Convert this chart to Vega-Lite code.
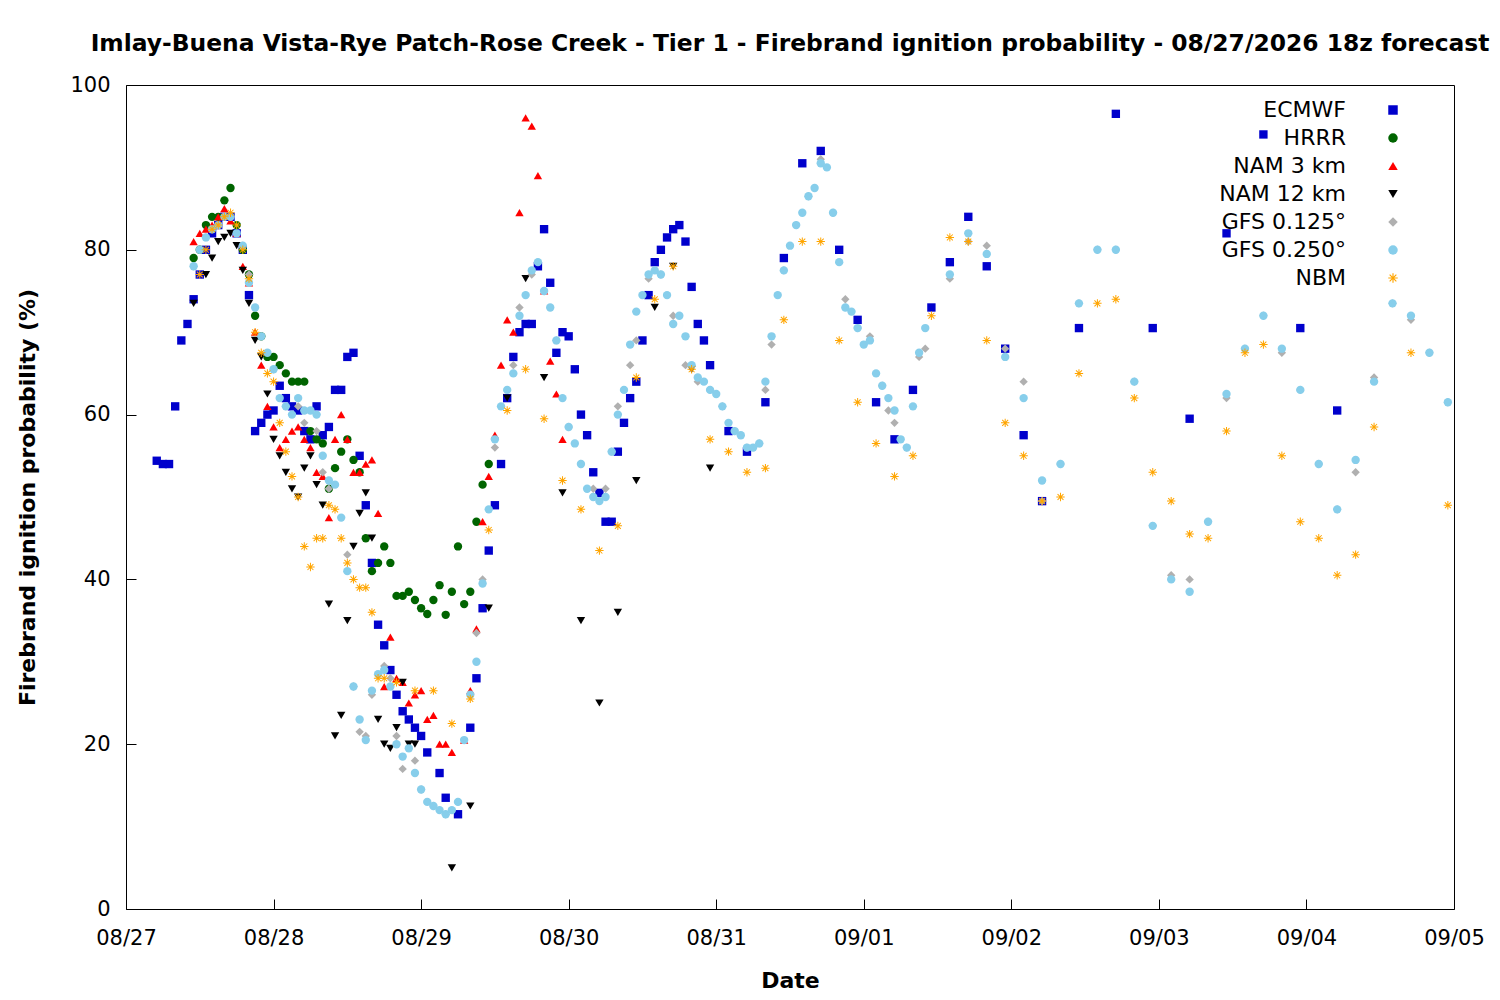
{
  "$schema": "https://vega.github.io/schema/vega-lite/v6.json",
  "autosize": "none",
  "width": 1328,
  "height": 824,
  "padding": {"left": 126, "top": 85, "right": 46, "bottom": 91},
  "background": "white",
  "config": {"font": "DejaVu Sans", "view": {"stroke": "black", "strokeWidth": 1}},
  "title": {"text": "Imlay-Buena Vista-Rye Patch-Rose Creek - Tier 1 - Firebrand ignition probability - 08/27/2026 18z forecast", "fontSize": 23.4, "fontWeight": "bold", "offset": 18, "anchor": "middle", "color": "black", "dx": 0},
  "data": {"values": [
{"m":"ECMWF","h":5,"p":54.4},{"m":"ECMWF","h":6,"p":54},{"m":"ECMWF","h":7,"p":54},{"m":"ECMWF","h":8,"p":61},{"m":"ECMWF","h":9,"p":69},{"m":"ECMWF","h":10,"p":71},{"m":"ECMWF","h":11,"p":74},{"m":"ECMWF","h":12,"p":77},{"m":"ECMWF","h":13,"p":80},{"m":"ECMWF","h":14,"p":82},{"m":"ECMWF","h":15,"p":83},{"m":"ECMWF","h":16,"p":84},{"m":"ECMWF","h":17,"p":84},{"m":"ECMWF","h":18,"p":82},{"m":"ECMWF","h":19,"p":80},{"m":"ECMWF","h":20,"p":74.5},{"m":"ECMWF","h":21,"p":58},{"m":"ECMWF","h":22,"p":59},{"m":"ECMWF","h":23,"p":60},{"m":"ECMWF","h":24,"p":60.5},{"m":"ECMWF","h":25,"p":63.5},{"m":"ECMWF","h":26,"p":62},{"m":"ECMWF","h":27,"p":61},{"m":"ECMWF","h":28,"p":60.5},{"m":"ECMWF","h":29,"p":58},{"m":"ECMWF","h":30,"p":57},{"m":"ECMWF","h":31,"p":61},{"m":"ECMWF","h":32,"p":57.5},{"m":"ECMWF","h":33,"p":58.5},{"m":"ECMWF","h":34,"p":63},{"m":"ECMWF","h":35,"p":63},{"m":"ECMWF","h":36,"p":67},{"m":"ECMWF","h":37,"p":67.5},{"m":"ECMWF","h":38,"p":55},{"m":"ECMWF","h":39,"p":49},{"m":"ECMWF","h":40,"p":42},{"m":"ECMWF","h":41,"p":34.5},{"m":"ECMWF","h":42,"p":32},{"m":"ECMWF","h":43,"p":29},{"m":"ECMWF","h":44,"p":26},{"m":"ECMWF","h":45,"p":24},{"m":"ECMWF","h":46,"p":23},{"m":"ECMWF","h":47,"p":22},{"m":"ECMWF","h":48,"p":21},{"m":"ECMWF","h":49,"p":19},{"m":"ECMWF","h":51,"p":16.5},{"m":"ECMWF","h":52,"p":13.5},{"m":"ECMWF","h":54,"p":11.5},{"m":"ECMWF","h":56,"p":22},{"m":"ECMWF","h":57,"p":28},{"m":"ECMWF","h":58,"p":36.5},{"m":"ECMWF","h":59,"p":43.5},{"m":"ECMWF","h":60,"p":49},{"m":"ECMWF","h":61,"p":54},{"m":"ECMWF","h":62,"p":62},{"m":"ECMWF","h":63,"p":67},{"m":"ECMWF","h":64,"p":70},{"m":"ECMWF","h":65,"p":71},{"m":"ECMWF","h":66,"p":71},{"m":"ECMWF","h":67,"p":78},{"m":"ECMWF","h":68,"p":82.5},{"m":"ECMWF","h":69,"p":76},{"m":"ECMWF","h":70,"p":67.5},{"m":"ECMWF","h":71,"p":70},{"m":"ECMWF","h":72,"p":69.5},{"m":"ECMWF","h":73,"p":65.5},{"m":"ECMWF","h":74,"p":60},{"m":"ECMWF","h":75,"p":57.5},{"m":"ECMWF","h":76,"p":53},{"m":"ECMWF","h":77,"p":50.5},{"m":"ECMWF","h":78,"p":47},{"m":"ECMWF","h":79,"p":47},{"m":"ECMWF","h":80,"p":55.5},{"m":"ECMWF","h":81,"p":59},{"m":"ECMWF","h":82,"p":62},{"m":"ECMWF","h":83,"p":64},{"m":"ECMWF","h":84,"p":69},{"m":"ECMWF","h":85,"p":74.5},{"m":"ECMWF","h":86,"p":78.5},{"m":"ECMWF","h":87,"p":80},{"m":"ECMWF","h":88,"p":81.5},{"m":"ECMWF","h":89,"p":82.5},{"m":"ECMWF","h":90,"p":83},{"m":"ECMWF","h":91,"p":81},{"m":"ECMWF","h":92,"p":75.5},{"m":"ECMWF","h":93,"p":71},{"m":"ECMWF","h":94,"p":69},{"m":"ECMWF","h":95,"p":66},{"m":"ECMWF","h":98,"p":58},{"m":"ECMWF","h":101,"p":55.5},{"m":"ECMWF","h":104,"p":61.5},{"m":"ECMWF","h":107,"p":79},{"m":"ECMWF","h":110,"p":90.5},{"m":"ECMWF","h":113,"p":92},{"m":"ECMWF","h":116,"p":80},{"m":"ECMWF","h":119,"p":71.5},{"m":"ECMWF","h":122,"p":61.5},{"m":"ECMWF","h":125,"p":57},{"m":"ECMWF","h":128,"p":63},{"m":"ECMWF","h":131,"p":73},{"m":"ECMWF","h":134,"p":78.5},{"m":"ECMWF","h":137,"p":84},{"m":"ECMWF","h":140,"p":78},{"m":"ECMWF","h":143,"p":68},{"m":"ECMWF","h":146,"p":57.5},{"m":"ECMWF","h":149,"p":49.5},{"m":"ECMWF","h":155,"p":70.5},{"m":"ECMWF","h":161,"p":96.5},{"m":"ECMWF","h":167,"p":70.5},{"m":"ECMWF","h":173,"p":59.5},{"m":"ECMWF","h":179,"p":82},{"m":"ECMWF","h":185,"p":94},{"m":"ECMWF","h":191,"p":70.5},{"m":"ECMWF","h":197,"p":60.5},
{"m":"HRRR","h":11,"p":79},{"m":"HRRR","h":12,"p":80},{"m":"HRRR","h":13,"p":83},{"m":"HRRR","h":14,"p":84},{"m":"HRRR","h":15,"p":84},{"m":"HRRR","h":16,"p":86},{"m":"HRRR","h":17,"p":87.5},{"m":"HRRR","h":18,"p":83},{"m":"HRRR","h":19,"p":80},{"m":"HRRR","h":20,"p":77},{"m":"HRRR","h":21,"p":72},{"m":"HRRR","h":22,"p":69.5},{"m":"HRRR","h":23,"p":67},{"m":"HRRR","h":24,"p":67},{"m":"HRRR","h":25,"p":66},{"m":"HRRR","h":26,"p":65},{"m":"HRRR","h":27,"p":64},{"m":"HRRR","h":28,"p":64},{"m":"HRRR","h":29,"p":64},{"m":"HRRR","h":30,"p":58},{"m":"HRRR","h":31,"p":57},{"m":"HRRR","h":32,"p":56.5},{"m":"HRRR","h":33,"p":51},{"m":"HRRR","h":34,"p":53.5},{"m":"HRRR","h":35,"p":55.5},{"m":"HRRR","h":36,"p":57},{"m":"HRRR","h":37,"p":54.5},{"m":"HRRR","h":38,"p":53},{"m":"HRRR","h":39,"p":45},{"m":"HRRR","h":40,"p":41},{"m":"HRRR","h":41,"p":42},{"m":"HRRR","h":42,"p":44},{"m":"HRRR","h":43,"p":42},{"m":"HRRR","h":44,"p":38},{"m":"HRRR","h":45,"p":38},{"m":"HRRR","h":46,"p":38.5},{"m":"HRRR","h":47,"p":37.5},{"m":"HRRR","h":48,"p":36.5},{"m":"HRRR","h":49,"p":35.8},{"m":"HRRR","h":50,"p":37.5},{"m":"HRRR","h":51,"p":39.3},{"m":"HRRR","h":52,"p":35.7},{"m":"HRRR","h":53,"p":38.5},{"m":"HRRR","h":54,"p":44},{"m":"HRRR","h":55,"p":37},{"m":"HRRR","h":56,"p":38.5},{"m":"HRRR","h":57,"p":47},{"m":"HRRR","h":58,"p":51.5},{"m":"HRRR","h":59,"p":54},
{"m":"NAM 3 km","h":11,"p":81},{"m":"NAM 3 km","h":12,"p":82},{"m":"NAM 3 km","h":13,"p":82.5},{"m":"NAM 3 km","h":14,"p":83},{"m":"NAM 3 km","h":15,"p":84},{"m":"NAM 3 km","h":16,"p":85},{"m":"NAM 3 km","h":17,"p":83.5},{"m":"NAM 3 km","h":18,"p":82},{"m":"NAM 3 km","h":19,"p":78},{"m":"NAM 3 km","h":20,"p":76},{"m":"NAM 3 km","h":21,"p":70},{"m":"NAM 3 km","h":22,"p":66},{"m":"NAM 3 km","h":23,"p":61},{"m":"NAM 3 km","h":24,"p":58.5},{"m":"NAM 3 km","h":25,"p":56},{"m":"NAM 3 km","h":26,"p":57},{"m":"NAM 3 km","h":27,"p":58},{"m":"NAM 3 km","h":28,"p":58.5},{"m":"NAM 3 km","h":29,"p":57},{"m":"NAM 3 km","h":30,"p":56},{"m":"NAM 3 km","h":31,"p":53},{"m":"NAM 3 km","h":32,"p":52.5},{"m":"NAM 3 km","h":33,"p":47.5},{"m":"NAM 3 km","h":34,"p":57},{"m":"NAM 3 km","h":35,"p":60},{"m":"NAM 3 km","h":36,"p":57},{"m":"NAM 3 km","h":37,"p":53},{"m":"NAM 3 km","h":38,"p":53},{"m":"NAM 3 km","h":39,"p":54},{"m":"NAM 3 km","h":40,"p":54.5},{"m":"NAM 3 km","h":41,"p":48},{"m":"NAM 3 km","h":42,"p":27},{"m":"NAM 3 km","h":43,"p":33},{"m":"NAM 3 km","h":44,"p":28},{"m":"NAM 3 km","h":45,"p":27.5},{"m":"NAM 3 km","h":46,"p":25},{"m":"NAM 3 km","h":47,"p":26},{"m":"NAM 3 km","h":48,"p":26.5},{"m":"NAM 3 km","h":49,"p":23},{"m":"NAM 3 km","h":50,"p":23.5},{"m":"NAM 3 km","h":51,"p":20},{"m":"NAM 3 km","h":52,"p":20},{"m":"NAM 3 km","h":53,"p":19},{"m":"NAM 3 km","h":55,"p":20.5},{"m":"NAM 3 km","h":56,"p":26.5},{"m":"NAM 3 km","h":57,"p":34},{"m":"NAM 3 km","h":58,"p":47},{"m":"NAM 3 km","h":59,"p":52.5},{"m":"NAM 3 km","h":60,"p":57.5},{"m":"NAM 3 km","h":61,"p":66},{"m":"NAM 3 km","h":62,"p":71.5},{"m":"NAM 3 km","h":63,"p":70},{"m":"NAM 3 km","h":64,"p":84.5},{"m":"NAM 3 km","h":65,"p":96},{"m":"NAM 3 km","h":66,"p":95},{"m":"NAM 3 km","h":67,"p":89},{"m":"NAM 3 km","h":68,"p":75},{"m":"NAM 3 km","h":69,"p":66.5},{"m":"NAM 3 km","h":70,"p":62.5},{"m":"NAM 3 km","h":71,"p":57},
{"m":"NAM 12 km","h":11,"p":73.5},{"m":"NAM 12 km","h":13,"p":77},{"m":"NAM 12 km","h":14,"p":79},{"m":"NAM 12 km","h":15,"p":81},{"m":"NAM 12 km","h":16,"p":81.5},{"m":"NAM 12 km","h":17,"p":82},{"m":"NAM 12 km","h":18,"p":80.5},{"m":"NAM 12 km","h":19,"p":77.5},{"m":"NAM 12 km","h":20,"p":73.5},{"m":"NAM 12 km","h":21,"p":69},{"m":"NAM 12 km","h":22,"p":67},{"m":"NAM 12 km","h":23,"p":62.5},{"m":"NAM 12 km","h":24,"p":57},{"m":"NAM 12 km","h":25,"p":55},{"m":"NAM 12 km","h":26,"p":53},{"m":"NAM 12 km","h":27,"p":51},{"m":"NAM 12 km","h":28,"p":50},{"m":"NAM 12 km","h":29,"p":53.5},{"m":"NAM 12 km","h":30,"p":55},{"m":"NAM 12 km","h":31,"p":51.5},{"m":"NAM 12 km","h":32,"p":49},{"m":"NAM 12 km","h":33,"p":37},{"m":"NAM 12 km","h":34,"p":21},{"m":"NAM 12 km","h":35,"p":23.5},{"m":"NAM 12 km","h":36,"p":35},{"m":"NAM 12 km","h":37,"p":44},{"m":"NAM 12 km","h":38,"p":48},{"m":"NAM 12 km","h":39,"p":50.5},{"m":"NAM 12 km","h":40,"p":45},{"m":"NAM 12 km","h":41,"p":23},{"m":"NAM 12 km","h":42,"p":20},{"m":"NAM 12 km","h":43,"p":19.5},{"m":"NAM 12 km","h":44,"p":22},{"m":"NAM 12 km","h":45,"p":27.5},{"m":"NAM 12 km","h":46,"p":20},{"m":"NAM 12 km","h":47,"p":20},{"m":"NAM 12 km","h":53,"p":5},{"m":"NAM 12 km","h":56,"p":12.5},{"m":"NAM 12 km","h":59,"p":36.5},{"m":"NAM 12 km","h":62,"p":62},{"m":"NAM 12 km","h":65,"p":76.5},{"m":"NAM 12 km","h":68,"p":64.5},{"m":"NAM 12 km","h":71,"p":50.5},{"m":"NAM 12 km","h":74,"p":35},{"m":"NAM 12 km","h":77,"p":25},{"m":"NAM 12 km","h":80,"p":36},{"m":"NAM 12 km","h":83,"p":52},{"m":"NAM 12 km","h":86,"p":73},{"m":"NAM 12 km","h":89,"p":78},{"m":"NAM 12 km","h":92,"p":65.5},{"m":"NAM 12 km","h":95,"p":53.5},
{"m":"GFS 0.125°","h":11,"p":78},{"m":"GFS 0.125°","h":13,"p":81.5},{"m":"GFS 0.125°","h":15,"p":83},{"m":"GFS 0.125°","h":17,"p":84},{"m":"GFS 0.125°","h":19,"p":80.5},{"m":"GFS 0.125°","h":20,"p":77},{"m":"GFS 0.125°","h":22,"p":69.5},{"m":"GFS 0.125°","h":24,"p":65.5},{"m":"GFS 0.125°","h":26,"p":61},{"m":"GFS 0.125°","h":28,"p":61},{"m":"GFS 0.125°","h":29,"p":59},{"m":"GFS 0.125°","h":31,"p":58},{"m":"GFS 0.125°","h":32,"p":53},{"m":"GFS 0.125°","h":33,"p":51},{"m":"GFS 0.125°","h":36,"p":43},{"m":"GFS 0.125°","h":37,"p":27},{"m":"GFS 0.125°","h":38,"p":21.5},{"m":"GFS 0.125°","h":39,"p":21},{"m":"GFS 0.125°","h":40,"p":26},{"m":"GFS 0.125°","h":42,"p":29.5},{"m":"GFS 0.125°","h":43,"p":28},{"m":"GFS 0.125°","h":44,"p":21},{"m":"GFS 0.125°","h":45,"p":17},{"m":"GFS 0.125°","h":47,"p":18},{"m":"GFS 0.125°","h":48,"p":14.5},{"m":"GFS 0.125°","h":50,"p":12.5},{"m":"GFS 0.125°","h":52,"p":11.5},{"m":"GFS 0.125°","h":54,"p":13},{"m":"GFS 0.125°","h":57,"p":33.5},{"m":"GFS 0.125°","h":58,"p":40},{"m":"GFS 0.125°","h":60,"p":56},{"m":"GFS 0.125°","h":63,"p":66},{"m":"GFS 0.125°","h":64,"p":73},{"m":"GFS 0.125°","h":66,"p":77},{"m":"GFS 0.125°","h":68,"p":75},{"m":"GFS 0.125°","h":70,"p":69},{"m":"GFS 0.125°","h":72,"p":58.5},{"m":"GFS 0.125°","h":74,"p":54},{"m":"GFS 0.125°","h":76,"p":51},{"m":"GFS 0.125°","h":78,"p":51},{"m":"GFS 0.125°","h":79,"p":55.5},{"m":"GFS 0.125°","h":80,"p":61},{"m":"GFS 0.125°","h":82,"p":66},{"m":"GFS 0.125°","h":83,"p":69},{"m":"GFS 0.125°","h":85,"p":76.5},{"m":"GFS 0.125°","h":87,"p":77},{"m":"GFS 0.125°","h":89,"p":72},{"m":"GFS 0.125°","h":91,"p":66},{"m":"GFS 0.125°","h":93,"p":64},{"m":"GFS 0.125°","h":95,"p":63},{"m":"GFS 0.125°","h":97,"p":61},{"m":"GFS 0.125°","h":99,"p":58},{"m":"GFS 0.125°","h":101,"p":56},{"m":"GFS 0.125°","h":103,"p":56.5},{"m":"GFS 0.125°","h":104,"p":63},{"m":"GFS 0.125°","h":105,"p":68.5},{"m":"GFS 0.125°","h":107,"p":77.5},{"m":"GFS 0.125°","h":109,"p":83},{"m":"GFS 0.125°","h":111,"p":86.5},{"m":"GFS 0.125°","h":113,"p":91},{"m":"GFS 0.125°","h":115,"p":84.5},{"m":"GFS 0.125°","h":117,"p":74},{"m":"GFS 0.125°","h":119,"p":70.5},{"m":"GFS 0.125°","h":121,"p":69.5},{"m":"GFS 0.125°","h":123,"p":63.5},{"m":"GFS 0.125°","h":124,"p":60.5},{"m":"GFS 0.125°","h":125,"p":59},{"m":"GFS 0.125°","h":127,"p":56},{"m":"GFS 0.125°","h":129,"p":67},{"m":"GFS 0.125°","h":130,"p":68},{"m":"GFS 0.125°","h":134,"p":76.5},{"m":"GFS 0.125°","h":137,"p":81},{"m":"GFS 0.125°","h":140,"p":80.5},{"m":"GFS 0.125°","h":143,"p":68},{"m":"GFS 0.125°","h":146,"p":64},{"m":"GFS 0.125°","h":149,"p":49.5},{"m":"GFS 0.125°","h":152,"p":54},{"m":"GFS 0.125°","h":155,"p":73.5},{"m":"GFS 0.125°","h":158,"p":80},{"m":"GFS 0.125°","h":161,"p":80},{"m":"GFS 0.125°","h":164,"p":64},{"m":"GFS 0.125°","h":167,"p":46.5},{"m":"GFS 0.125°","h":170,"p":40.5},{"m":"GFS 0.125°","h":173,"p":40},{"m":"GFS 0.125°","h":176,"p":47},{"m":"GFS 0.125°","h":179,"p":62},{"m":"GFS 0.125°","h":182,"p":68},{"m":"GFS 0.125°","h":185,"p":72},{"m":"GFS 0.125°","h":188,"p":67.5},{"m":"GFS 0.125°","h":191,"p":63},{"m":"GFS 0.125°","h":194,"p":54},{"m":"GFS 0.125°","h":197,"p":48.5},{"m":"GFS 0.125°","h":200,"p":53},{"m":"GFS 0.125°","h":203,"p":64.5},{"m":"GFS 0.125°","h":206,"p":73.5},{"m":"GFS 0.125°","h":209,"p":71.5},{"m":"GFS 0.125°","h":212,"p":67.5},{"m":"GFS 0.125°","h":215,"p":61.5},
{"m":"GFS 0.250°","h":11,"p":78},{"m":"GFS 0.250°","h":12,"p":80},{"m":"GFS 0.250°","h":13,"p":81.5},{"m":"GFS 0.250°","h":14,"p":82.5},{"m":"GFS 0.250°","h":15,"p":83},{"m":"GFS 0.250°","h":16,"p":84},{"m":"GFS 0.250°","h":17,"p":84},{"m":"GFS 0.250°","h":18,"p":82},{"m":"GFS 0.250°","h":19,"p":80.5},{"m":"GFS 0.250°","h":20,"p":76},{"m":"GFS 0.250°","h":21,"p":73},{"m":"GFS 0.250°","h":22,"p":69.5},{"m":"GFS 0.250°","h":23,"p":67.5},{"m":"GFS 0.250°","h":24,"p":65.5},{"m":"GFS 0.250°","h":25,"p":62},{"m":"GFS 0.250°","h":26,"p":61},{"m":"GFS 0.250°","h":27,"p":60},{"m":"GFS 0.250°","h":28,"p":62},{"m":"GFS 0.250°","h":29,"p":60.5},{"m":"GFS 0.250°","h":30,"p":60.5},{"m":"GFS 0.250°","h":31,"p":60},{"m":"GFS 0.250°","h":32,"p":55},{"m":"GFS 0.250°","h":33,"p":52},{"m":"GFS 0.250°","h":34,"p":51.5},{"m":"GFS 0.250°","h":35,"p":47.5},{"m":"GFS 0.250°","h":36,"p":41},{"m":"GFS 0.250°","h":37,"p":27},{"m":"GFS 0.250°","h":38,"p":23},{"m":"GFS 0.250°","h":39,"p":20.5},{"m":"GFS 0.250°","h":40,"p":26.5},{"m":"GFS 0.250°","h":41,"p":28.5},{"m":"GFS 0.250°","h":42,"p":29},{"m":"GFS 0.250°","h":43,"p":27},{"m":"GFS 0.250°","h":44,"p":20},{"m":"GFS 0.250°","h":45,"p":18.5},{"m":"GFS 0.250°","h":46,"p":19.5},{"m":"GFS 0.250°","h":47,"p":16.5},{"m":"GFS 0.250°","h":48,"p":14.5},{"m":"GFS 0.250°","h":49,"p":13},{"m":"GFS 0.250°","h":50,"p":12.5},{"m":"GFS 0.250°","h":51,"p":12},{"m":"GFS 0.250°","h":52,"p":11.5},{"m":"GFS 0.250°","h":53,"p":12},{"m":"GFS 0.250°","h":54,"p":13},{"m":"GFS 0.250°","h":55,"p":20.5},{"m":"GFS 0.250°","h":56,"p":26},{"m":"GFS 0.250°","h":57,"p":30},{"m":"GFS 0.250°","h":58,"p":39.5},{"m":"GFS 0.250°","h":59,"p":48.5},{"m":"GFS 0.250°","h":60,"p":57},{"m":"GFS 0.250°","h":61,"p":61},{"m":"GFS 0.250°","h":62,"p":63},{"m":"GFS 0.250°","h":63,"p":65},{"m":"GFS 0.250°","h":64,"p":72},{"m":"GFS 0.250°","h":65,"p":74.5},{"m":"GFS 0.250°","h":66,"p":77.5},{"m":"GFS 0.250°","h":67,"p":78.5},{"m":"GFS 0.250°","h":68,"p":75},{"m":"GFS 0.250°","h":69,"p":73},{"m":"GFS 0.250°","h":70,"p":69},{"m":"GFS 0.250°","h":71,"p":62},{"m":"GFS 0.250°","h":72,"p":58.5},{"m":"GFS 0.250°","h":73,"p":56.5},{"m":"GFS 0.250°","h":74,"p":54},{"m":"GFS 0.250°","h":75,"p":51},{"m":"GFS 0.250°","h":76,"p":50},{"m":"GFS 0.250°","h":77,"p":49.5},{"m":"GFS 0.250°","h":78,"p":50},{"m":"GFS 0.250°","h":79,"p":55.5},{"m":"GFS 0.250°","h":80,"p":60},{"m":"GFS 0.250°","h":81,"p":63},{"m":"GFS 0.250°","h":82,"p":68.5},{"m":"GFS 0.250°","h":83,"p":72.5},{"m":"GFS 0.250°","h":84,"p":74.5},{"m":"GFS 0.250°","h":85,"p":77},{"m":"GFS 0.250°","h":86,"p":77.5},{"m":"GFS 0.250°","h":87,"p":77},{"m":"GFS 0.250°","h":88,"p":74.5},{"m":"GFS 0.250°","h":89,"p":71},{"m":"GFS 0.250°","h":90,"p":72},{"m":"GFS 0.250°","h":91,"p":69.5},{"m":"GFS 0.250°","h":92,"p":66},{"m":"GFS 0.250°","h":93,"p":64.5},{"m":"GFS 0.250°","h":94,"p":64},{"m":"GFS 0.250°","h":95,"p":63},{"m":"GFS 0.250°","h":96,"p":62.5},{"m":"GFS 0.250°","h":97,"p":61},{"m":"GFS 0.250°","h":98,"p":59},{"m":"GFS 0.250°","h":99,"p":58},{"m":"GFS 0.250°","h":100,"p":57.5},{"m":"GFS 0.250°","h":101,"p":56},{"m":"GFS 0.250°","h":102,"p":56},{"m":"GFS 0.250°","h":103,"p":56.5},{"m":"GFS 0.250°","h":104,"p":64},{"m":"GFS 0.250°","h":105,"p":69.5},{"m":"GFS 0.250°","h":106,"p":74.5},{"m":"GFS 0.250°","h":107,"p":77.5},{"m":"GFS 0.250°","h":108,"p":80.5},{"m":"GFS 0.250°","h":109,"p":83},{"m":"GFS 0.250°","h":110,"p":84.5},{"m":"GFS 0.250°","h":111,"p":86.5},{"m":"GFS 0.250°","h":112,"p":87.5},{"m":"GFS 0.250°","h":113,"p":90.5},{"m":"GFS 0.250°","h":114,"p":90},{"m":"GFS 0.250°","h":115,"p":84.5},{"m":"GFS 0.250°","h":116,"p":78.5},{"m":"GFS 0.250°","h":117,"p":73},{"m":"GFS 0.250°","h":118,"p":72.5},{"m":"GFS 0.250°","h":119,"p":70.5},{"m":"GFS 0.250°","h":120,"p":68.5},{"m":"GFS 0.250°","h":121,"p":69},{"m":"GFS 0.250°","h":122,"p":65},{"m":"GFS 0.250°","h":123,"p":63.5},{"m":"GFS 0.250°","h":124,"p":62},{"m":"GFS 0.250°","h":125,"p":60.5},{"m":"GFS 0.250°","h":126,"p":57},{"m":"GFS 0.250°","h":127,"p":56},{"m":"GFS 0.250°","h":128,"p":61},{"m":"GFS 0.250°","h":129,"p":67.5},{"m":"GFS 0.250°","h":130,"p":70.5},{"m":"GFS 0.250°","h":134,"p":77},{"m":"GFS 0.250°","h":137,"p":82},{"m":"GFS 0.250°","h":140,"p":79.5},{"m":"GFS 0.250°","h":143,"p":67},{"m":"GFS 0.250°","h":146,"p":62},{"m":"GFS 0.250°","h":149,"p":52},{"m":"GFS 0.250°","h":152,"p":54},{"m":"GFS 0.250°","h":155,"p":73.5},{"m":"GFS 0.250°","h":158,"p":80},{"m":"GFS 0.250°","h":161,"p":80},{"m":"GFS 0.250°","h":164,"p":64},{"m":"GFS 0.250°","h":167,"p":46.5},{"m":"GFS 0.250°","h":170,"p":40},{"m":"GFS 0.250°","h":173,"p":38.5},{"m":"GFS 0.250°","h":176,"p":47},{"m":"GFS 0.250°","h":179,"p":62.5},{"m":"GFS 0.250°","h":182,"p":68},{"m":"GFS 0.250°","h":185,"p":72},{"m":"GFS 0.250°","h":188,"p":68},{"m":"GFS 0.250°","h":191,"p":63},{"m":"GFS 0.250°","h":194,"p":54},{"m":"GFS 0.250°","h":197,"p":48.5},{"m":"GFS 0.250°","h":200,"p":54.5},{"m":"GFS 0.250°","h":203,"p":64},{"m":"GFS 0.250°","h":206,"p":73.5},{"m":"GFS 0.250°","h":209,"p":72},{"m":"GFS 0.250°","h":212,"p":67.5},{"m":"GFS 0.250°","h":215,"p":61.5},
{"m":"NBM","h":12,"p":77},{"m":"NBM","h":13,"p":80},{"m":"NBM","h":14,"p":82.5},{"m":"NBM","h":15,"p":83},{"m":"NBM","h":16,"p":84},{"m":"NBM","h":17,"p":84.5},{"m":"NBM","h":18,"p":83},{"m":"NBM","h":19,"p":80},{"m":"NBM","h":20,"p":76.5},{"m":"NBM","h":21,"p":70},{"m":"NBM","h":22,"p":67.5},{"m":"NBM","h":23,"p":65},{"m":"NBM","h":24,"p":64},{"m":"NBM","h":25,"p":59},{"m":"NBM","h":26,"p":55.5},{"m":"NBM","h":27,"p":52.5},{"m":"NBM","h":28,"p":50},{"m":"NBM","h":29,"p":44},{"m":"NBM","h":30,"p":41.5},{"m":"NBM","h":31,"p":45},{"m":"NBM","h":32,"p":45},{"m":"NBM","h":33,"p":49},{"m":"NBM","h":34,"p":48.5},{"m":"NBM","h":35,"p":45},{"m":"NBM","h":36,"p":42},{"m":"NBM","h":37,"p":40},{"m":"NBM","h":38,"p":39},{"m":"NBM","h":39,"p":39},{"m":"NBM","h":40,"p":36},{"m":"NBM","h":41,"p":28},{"m":"NBM","h":42,"p":28},{"m":"NBM","h":44,"p":27.5},{"m":"NBM","h":47,"p":26.5},{"m":"NBM","h":50,"p":26.5},{"m":"NBM","h":53,"p":22.5},{"m":"NBM","h":56,"p":25.5},{"m":"NBM","h":59,"p":46},{"m":"NBM","h":62,"p":60.5},{"m":"NBM","h":65,"p":65.5},{"m":"NBM","h":68,"p":59.5},{"m":"NBM","h":71,"p":52},{"m":"NBM","h":74,"p":48.5},{"m":"NBM","h":77,"p":43.5},{"m":"NBM","h":80,"p":46.5},{"m":"NBM","h":83,"p":64.5},{"m":"NBM","h":86,"p":74},{"m":"NBM","h":89,"p":78},{"m":"NBM","h":92,"p":65.5},{"m":"NBM","h":95,"p":57},{"m":"NBM","h":98,"p":55.5},{"m":"NBM","h":101,"p":53},{"m":"NBM","h":104,"p":53.5},{"m":"NBM","h":107,"p":71.5},{"m":"NBM","h":110,"p":81},{"m":"NBM","h":113,"p":81},{"m":"NBM","h":116,"p":69},{"m":"NBM","h":119,"p":61.5},{"m":"NBM","h":122,"p":56.5},{"m":"NBM","h":125,"p":52.5},{"m":"NBM","h":128,"p":55},{"m":"NBM","h":131,"p":72},{"m":"NBM","h":134,"p":81.5},{"m":"NBM","h":137,"p":81},{"m":"NBM","h":140,"p":69},{"m":"NBM","h":143,"p":59},{"m":"NBM","h":146,"p":55},{"m":"NBM","h":149,"p":49.5},{"m":"NBM","h":152,"p":50},{"m":"NBM","h":155,"p":65},{"m":"NBM","h":158,"p":73.5},{"m":"NBM","h":161,"p":74},{"m":"NBM","h":164,"p":62},{"m":"NBM","h":167,"p":53},{"m":"NBM","h":170,"p":49.5},{"m":"NBM","h":173,"p":45.5},{"m":"NBM","h":176,"p":45},{"m":"NBM","h":179,"p":58},{"m":"NBM","h":182,"p":67.5},{"m":"NBM","h":185,"p":68.5},{"m":"NBM","h":188,"p":55},{"m":"NBM","h":191,"p":47},{"m":"NBM","h":194,"p":45},{"m":"NBM","h":197,"p":40.5},{"m":"NBM","h":200,"p":43},{"m":"NBM","h":203,"p":58.5},{"m":"NBM","h":209,"p":67.5},{"m":"NBM","h":215,"p":49}
  ]},
  "mark": {"type": "point", "filled": true, "opacity": 1, "size": 70},
  "encoding": {
    "x": {"field": "h", "type": "quantitative", "scale": {"domain": [0, 216], "nice": false},
      "axis": {"title": "Date", "values": [0,24,48,72,96,120,144,168,192,216], "labelExpr": "['08/27','08/28','08/29','08/30','08/31','09/01','09/02','09/03','09/04','09/05'][round(datum.value/24)]", "grid": false, "labelFontSize": 21, "titleFontSize": 22, "titleFontWeight": "bold", "labelColor": "black", "titleColor": "black", "domain": false, "tickColor": "black", "tickSize": -10, "labelPadding": 28, "titlePadding": 22, "labelFlush": false, "labelBound": false, "labelOverlap": false}},
    "y": {"field": "p", "type": "quantitative", "scale": {"domain": [0, 100], "nice": false},
      "axis": {"title": "Firebrand ignition probability (%)", "values": [0,20,40,60,80,100], "grid": false, "labelFontSize": 21, "titleFontSize": 22, "titleFontWeight": "bold", "labelColor": "black", "titleColor": "black", "domain": false, "tickColor": "black", "tickSize": -10, "labelPadding": 26, "titlePadding": 30, "labelFlush": false}},
    "color": {"field": "m", "type": "nominal",
      "scale": {"domain": ["ECMWF","HRRR","NAM 3 km","NAM 12 km","GFS 0.125°","GFS 0.250°","NBM"], "range": ["#0000cc","#006400","#ff0000","#000000","#b0b0b0","#87ceeb","#ffa500"]},
      "legend": {"title": null, "orient": "none", "legendX": 1256, "legendY": 14, "labelFontSize": 22, "labelColor": "black", "symbolSize": 90, "rowPadding": 6, "labelAlign": "right", "labelOffset": -58, "labelFont": "DejaVu Sans"}},
    "shape": {"field": "m", "type": "nominal",
      "scale": {"domain": ["ECMWF","HRRR","NAM 3 km","NAM 12 km","GFS 0.125°","GFS 0.250°","NBM"], "range": ["square","circle","triangle-up","triangle-down","diamond","circle","M-1,-0.12L1,-0.12L1,0.12L-1,0.12Z M0.12,-1L0.12,1L-0.12,1L-0.12,-1Z M-0.622,-0.792L0.792,0.622L0.622,0.792L-0.792,-0.622Z M0.792,-0.622L-0.622,0.792L-0.792,0.622L0.622,-0.792Z"]},
      "legend": null}
  }
}
